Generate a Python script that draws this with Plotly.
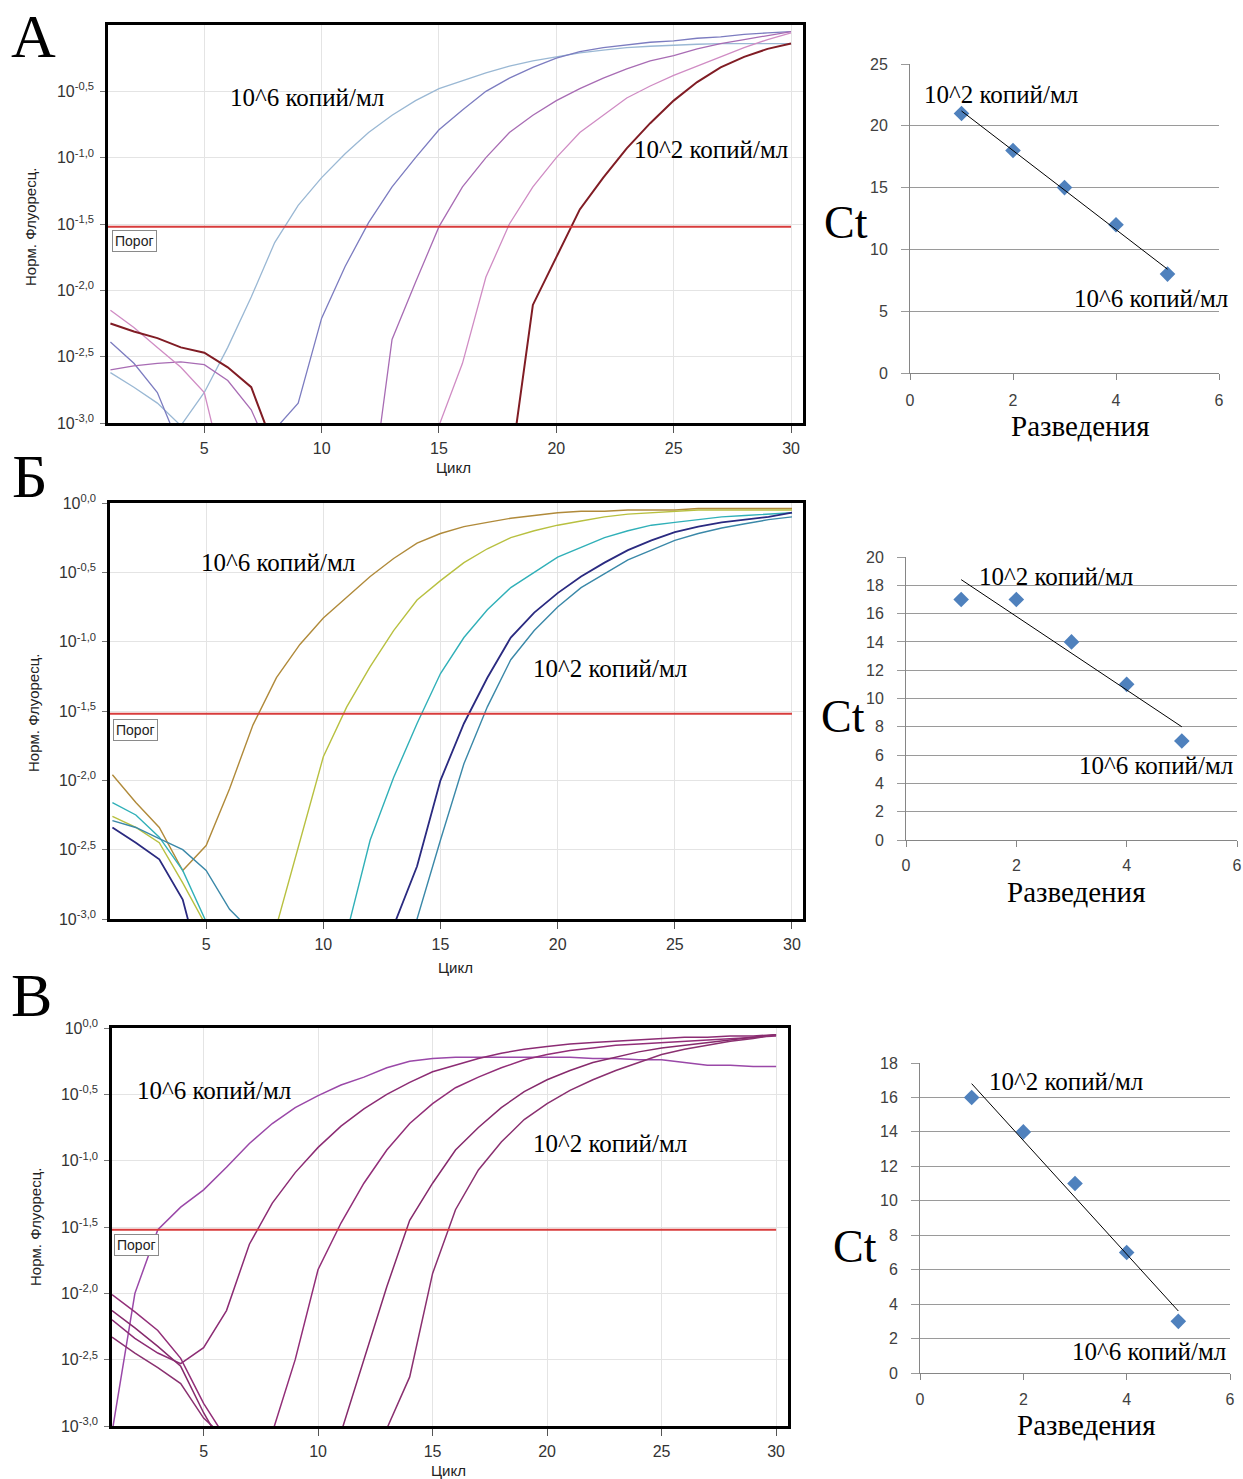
import numpy as np
import plotly.graph_objects as go

W, H = 1243, 1479
N = None

# ---------------- data: amplification curves (log10 of normalised fluorescence per cycle) ----------------
cycles = list(range(1, 31))

a_curve1 = [-2.62, -2.73, -2.85, -3.02, -2.77, -2.43, -2.05, -1.64, -1.36, -1.15,
            -0.97, -0.81, -0.68, -0.57, -0.48, -0.42, -0.36, -0.31, -0.27, -0.24,
            -0.21, -0.19, -0.17, -0.16, -0.15, -0.145, -0.14, -0.14, -0.14, -0.14]
a_curve2 = [-2.39, -2.55, -2.77, -3.2, N, N, N, -3.05, -2.85, -2.21,
            -1.82, -1.49, -1.22, -1.0, -0.79, -0.64, -0.50, -0.40, -0.32, -0.25,
            -0.20, -0.17, -0.15, -0.13, -0.12, -0.10, -0.09, -0.07, -0.06, -0.05]
a_curve3 = [-2.60, -2.57, -2.55, -2.54, -2.56, -2.68, -2.90, -3.3, N, N,
            N, -3.7, -2.37, -1.94, -1.52, -1.22, -1.0, -0.81, -0.68, -0.57,
            -0.48, -0.40, -0.33, -0.27, -0.23, -0.18, -0.14, -0.11, -0.08, -0.05]
a_curve4 = [-2.15, -2.28, -2.43, -2.58, -2.77, -3.5, N, N, N, N,
            N, N, N, -3.6, -3.02, -2.55, -1.90, -1.50, -1.22, -1.0,
            -0.81, -0.68, -0.55, -0.46, -0.38, -0.31, -0.24, -0.17, -0.11, -0.06]
a_curve5 = [-2.25, -2.31, -2.36, -2.43, -2.47, -2.58, -2.73, -3.2, N, N,
            N, N, N, N, N, N, N, -3.4, -2.11, -1.75,
            -1.39, -1.15, -0.93, -0.74, -0.57, -0.43, -0.32, -0.24, -0.18, -0.14]

b_curve1 = [-1.96, -2.16, -2.34, -2.65, -2.47, -2.06, -1.60, -1.26, -1.02, -0.83,
            -0.68, -0.53, -0.40, -0.29, -0.22, -0.17, -0.14, -0.11, -0.09, -0.07,
            -0.06, -0.06, -0.05, -0.05, -0.05, -0.04, -0.04, -0.04, -0.04, -0.04]
b_curve2 = [-2.26, -2.34, -2.45, -2.74, -3.05, -3.5, N, -3.05, -2.45, -1.83,
            -1.47, -1.18, -0.92, -0.70, -0.56, -0.43, -0.33, -0.25, -0.20, -0.16,
            -0.13, -0.10, -0.08, -0.07, -0.06, -0.05, -0.05, -0.05, -0.05, -0.05]
b_curve3 = [-2.16, -2.25, -2.41, -2.65, -3.02, -3.5, N, N, N, N,
            -3.1, -2.43, -1.98, -1.59, -1.23, -0.97, -0.77, -0.61, -0.50, -0.39,
            -0.32, -0.25, -0.20, -0.16, -0.14, -0.12, -0.10, -0.09, -0.08, -0.07]
b_curve4 = [-2.34, -2.45, -2.57, -2.86, -3.5, N, N, N, N, N,
            N, N, -3.05, -2.62, -2.0, -1.59, -1.26, -0.97, -0.79, -0.65,
            -0.53, -0.43, -0.34, -0.27, -0.21, -0.17, -0.14, -0.12, -0.10, -0.07]
b_curve5 = [-2.29, -2.34, -2.42, -2.50, -2.65, -2.93, -3.1, N, N, N,
            N, N, -3.6, -3.0, -2.43, -1.88, -1.47, -1.13, -0.92, -0.75,
            -0.61, -0.51, -0.41, -0.34, -0.27, -0.22, -0.18, -0.15, -0.12, -0.10]

v_curve1 = [-3.05, -2.0, -1.52, -1.35, -1.22, -1.05, -0.87, -0.72, -0.60, -0.51,
            -0.43, -0.37, -0.30, -0.25, -0.23, -0.22, -0.22, -0.22, -0.22, -0.22,
            -0.22, -0.23, -0.23, -0.24, -0.24, -0.26, -0.28, -0.28, -0.29, -0.29]
v_curve2 = [-2.20, -2.34, -2.45, -2.53, -2.41, -2.13, -1.63, -1.32, -1.09, -0.90,
            -0.74, -0.61, -0.50, -0.41, -0.33, -0.28, -0.23, -0.19, -0.16, -0.14,
            -0.12, -0.11, -0.10, -0.09, -0.08, -0.07, -0.07, -0.06, -0.06, -0.05]
v_curve3 = [-2.01, -2.14, -2.28, -2.49, -2.83, -3.1, N, -3.05, -2.50, -1.82,
            -1.47, -1.17, -0.92, -0.72, -0.57, -0.45, -0.37, -0.30, -0.24, -0.20,
            -0.17, -0.15, -0.13, -0.12, -0.11, -0.10, -0.09, -0.08, -0.07, -0.06]
v_curve4 = [-2.13, -2.26, -2.40, -2.55, -2.90, -3.2, N, N, N, N,
            -3.05, -2.50, -1.95, -1.45, -1.17, -0.92, -0.75, -0.60, -0.48, -0.39,
            -0.32, -0.26, -0.22, -0.18, -0.15, -0.13, -0.11, -0.09, -0.07, -0.05]
v_curve5 = [-2.33, -2.45, -2.56, -2.68, -2.94, -3.1, N, N, N, N,
            N, N, -3.02, -2.63, -1.85, -1.37, -1.07, -0.86, -0.69, -0.57,
            -0.47, -0.39, -0.32, -0.26, -0.20, -0.16, -0.13, -0.10, -0.08, -0.05]

threshold_log = [-1.52, -1.52, -1.52]

log_ticks_a = [-3.0, -2.5, -2.0, -1.5, -1.0, -0.5]
log_ticks_bv = [-3.0, -2.5, -2.0, -1.5, -1.0, -0.5, 0.0]
cycle_ticks = [5, 10, 15, 20, 25, 30]

# ---------------- data: standard curves ----------------
dilutions = [1, 2, 3, 4, 5]
ct_a = [21, 18, 15, 12, 8]
ct_b = [17, 17, 14, 11, 7]
ct_v = [16, 14, 11, 7, 3]
dil_ticks = [0, 2, 4, 6]

label_hi = "10^6 копий/мл"
label_lo = "10^2 копий/мл"
panel_letters = ["А", "Б", "В"]

SERIF = "Liberation Serif"
SANS = "Liberation Sans"
LABEL_SIZE = 25


def fx(px):
    return px / W


def fy(py):
    return 1 - py / H


def to_lin(vals):
    return [None if v is None else 10 ** v for v in vals]


def note(px, py, text, size, family=SERIF, color="#000", **kw):
    d = dict(x=fx(px), y=fy(py), xref="paper", yref="paper", text=text, showarrow=False,
             xanchor="center", yanchor="middle", font=dict(family=family, size=size, color=color))
    d.update(kw)
    return d


fig = go.Figure()
annotations = []
layout_axes = {}

left_specs = [
    dict(curves=[a_curve1, a_curve2, a_curve3, a_curve4, a_curve5],
         colors=["#9ab8d4", "#7c7cc0", "#a86cb4", "#d08cc4", "#801c24"],
         widths=[1.3, 1.3, 1.3, 1.3, 2.0],
         box=(108, 803, 25, 423), xr=(0.897, 30.51), yticks=log_ticks_a,
         porog=(112, 230), lab6=(307, 98), lab2=(711, 149), ylab=(30, 227), xlab=(453, 468),
         letter=(33, 36)),
    dict(curves=[b_curve1, b_curve2, b_curve3, b_curve4, b_curve5],
         colors=["#b08a3a", "#b8c040", "#30b0b8", "#2a2a80", "#3a88a8"],
         widths=[1.4, 1.4, 1.4, 1.8, 1.4],
         box=(110, 803, 503, 919), xr=(0.897, 30.47), yticks=log_ticks_bv,
         porog=(113, 719), lab6=(278, 562), lab2=(610, 668), ylab=(33, 713), xlab=(455, 967),
         letter=(30, 476)),
    dict(curves=[v_curve1, v_curve2, v_curve3, v_curve4, v_curve5],
         colors=["#9a48a8", "#8c2c74", "#922e78", "#862a6c", "#8a3070"],
         widths=[1.5, 1.5, 1.5, 1.5, 1.5],
         box=(112, 788, 1028, 1426), xr=(1.0, 30.52), yticks=log_ticks_bv,
         porog=(114, 1234), lab6=(214, 1090), lab2=(610, 1143), ylab=(35, 1227), xlab=(448, 1470),
         letter=(32, 995)),
]

for i, sp in enumerate(left_specs):
    n = i + 1
    xa = "x" if n == 1 else f"x{n}"
    ya = "y" if n == 1 else f"y{n}"
    x0, x1, y0, y1 = sp["box"]
    for curve, col, wd in zip(sp["curves"], sp["colors"], sp["widths"]):
        fig.add_trace(go.Scatter(x=cycles, y=to_lin(curve), mode="lines",
                                 line=dict(color=col, width=wd), connectgaps=False,
                                 xaxis=xa, yaxis=ya, showlegend=False))
    thr = 10 ** threshold_log[i]
    fig.add_trace(go.Scatter(x=[sp["xr"][0], cycles[-1]], y=[thr, thr], mode="lines",
                             line=dict(color="#d83c3c", width=2),
                             xaxis=xa, yaxis=ya, showlegend=False))
    layout_axes["xaxis" if n == 1 else f"xaxis{n}"] = dict(
        domain=[fx(x0), fx(x1)], anchor=ya, range=list(sp["xr"]),
        tickvals=cycle_ticks, ticks="outside", ticklen=7, tickcolor="#555",
        showgrid=True, gridcolor="#e4e4e4", gridwidth=1, zeroline=False,
        showline=True, mirror=True, linecolor="#000", linewidth=2.5,
        tickfont=dict(family=SANS, size=16, color="#333"), ticklabelstandoff=2)
    layout_axes["yaxis" if n == 1 else f"yaxis{n}"] = dict(
        domain=[fy(y1), fy(y0)], anchor=xa, type="log", range=[-3, 0],
        tickvals=[10 ** t for t in sp["yticks"]],
        ticktext=["10<sup>" + f"{t:.1f}".replace(".", ",") + "</sup>" for t in sp["yticks"]],
        ticks="outside", ticklen=5, tickcolor="#777",
        showgrid=True, gridcolor="#e4e4e4", gridwidth=1, zeroline=False,
        showline=True, mirror=True, linecolor="#000", linewidth=2.5,
        tickfont=dict(family=SANS, size=16, color="#333"), ticklabelstandoff=3)
    annotations.append(dict(x=fx(sp["porog"][0]), y=fy(sp["porog"][1]), xref="paper", yref="paper",
                            xanchor="left", yanchor="top", text="Порог", showarrow=False,
                            font=dict(family=SANS, size=14, color="#222"),
                            bgcolor="#ffffff", bordercolor="#8a8a8a", borderwidth=1, borderpad=2))
    annotations.append(note(*sp["lab6"], label_hi, LABEL_SIZE))
    annotations.append(note(*sp["lab2"], label_lo, LABEL_SIZE))
    annotations.append(note(*sp["ylab"], "Норм. Флуоресц.", 15, family=SANS, color="#222", textangle=-90))
    annotations.append(note(*sp["xlab"], "Цикл", 15, family=SANS, color="#222"))
    annotations.append(note(*sp["letter"], panel_letters[i], 62))

right_specs = [
    dict(ct=ct_a, box=(910, 1219, 64, 373), ymax=25, dt=5, standoff=7,
         lab2=(1001, 94), lab6=(1151, 299), ctpos=(846, 222), razv=(1080, 426)),
    dict(ct=ct_b, box=(906, 1237, 557, 840), ymax=20, dt=2, standoff=5,
         lab2=(1056, 576), lab6=(1156, 765), ctpos=(843, 717), razv=(1076, 892)),
    dict(ct=ct_v, box=(920, 1230, 1063, 1373), ymax=18, dt=2, standoff=6,
         lab2=(1066, 1081), lab6=(1149, 1351), ctpos=(855, 1246), razv=(1086, 1425)),
]

for j, sp in enumerate(right_specs):
    n = j + 4
    xa, ya = f"x{n}", f"y{n}"
    x0, x1, y0, y1 = sp["box"]
    slope, intercept = np.polyfit(dilutions, sp["ct"], 1)
    xs = [dilutions[0], dilutions[-1]]
    fig.add_trace(go.Scatter(x=dilutions, y=sp["ct"], mode="markers",
                             marker=dict(symbol="diamond", size=12, color="#4f81bd",
                                         line=dict(width=0)),
                             xaxis=xa, yaxis=ya, showlegend=False))
    fig.add_trace(go.Scatter(x=xs, y=[slope * v + intercept for v in xs], mode="lines",
                             line=dict(color="#000", width=1),
                             xaxis=xa, yaxis=ya, showlegend=False))
    layout_axes[f"xaxis{n}"] = dict(
        domain=[fx(x0), fx(x1)], anchor=ya, range=[0, 6], tickvals=dil_ticks,
        ticks="outside", ticklen=6, tickcolor="#868686", showgrid=False, zeroline=False,
        showline=True, linecolor="#868686", linewidth=1,
        tickfont=dict(family=SANS, size=16, color="#404040"), ticklabelstandoff=sp["standoff"])
    layout_axes[f"yaxis{n}"] = dict(
        domain=[fy(y1), fy(y0)], anchor=xa, range=[0, sp["ymax"]], dtick=sp["dt"], tick0=0,
        ticks="outside", ticklen=8, tickcolor="#9a9a9a", showgrid=True, gridcolor="#9a9a9a",
        gridwidth=1, zeroline=False, showline=True, linecolor="#868686", linewidth=1,
        tickfont=dict(family=SANS, size=16, color="#404040"), ticklabelstandoff=10)
    annotations.append(note(*sp["lab2"], label_lo, LABEL_SIZE))
    annotations.append(note(*sp["lab6"], label_hi, LABEL_SIZE))
    annotations.append(note(*sp["ctpos"], "Ct", 46))
    annotations.append(note(*sp["razv"], "Разведения", 29))

fig.update_layout(width=W, height=H, margin=dict(l=0, r=0, t=0, b=0, pad=0, autoexpand=False),
                  paper_bgcolor="#ffffff", plot_bgcolor="#ffffff",
                  showlegend=False, annotations=annotations, **layout_axes)

fig.write_html("out.html", config={"displayModeBar": False},
               post_script="document.body.style.margin='0';document.body.style.overflow='hidden';")
